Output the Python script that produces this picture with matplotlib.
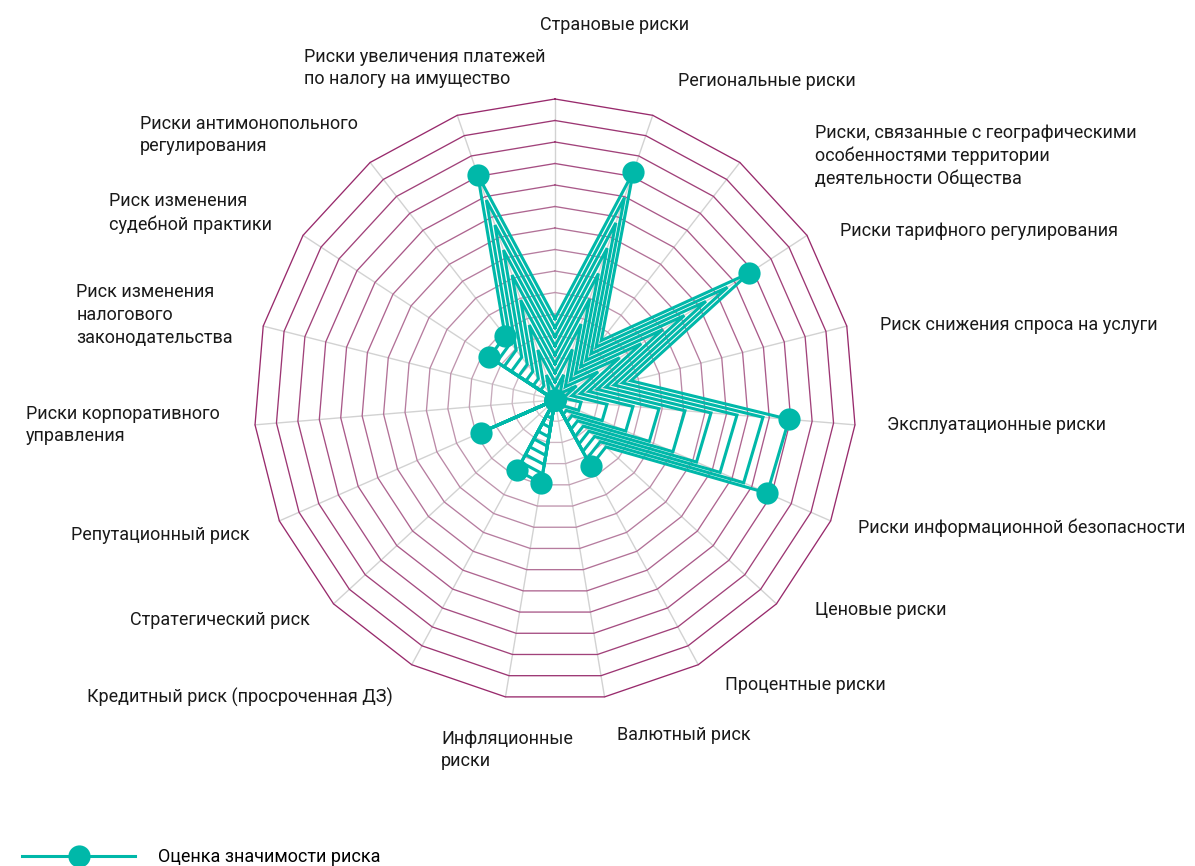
import numpy as np
import matplotlib
matplotlib.use("Agg")
import matplotlib.pyplot as plt
from matplotlib.lines import Line2D
from matplotlib.colors import to_rgb

# ---------------- data ----------------
categories = [
    "Страновые риски",
    "Региональные риски",
    "Риски, связанные с географическими\nособенностями территории\nдеятельности Общества",
    "Риски тарифного регулирования",
    "Риск снижения спроса на услуги",
    "Эксплуатационные риски",
    "Риски информационной безопасности",
    "Ценовые риски",
    "Процентные риски",
    "Валютный риск",
    "Инфляционные\nриски",
    "Кредитный риск (просроченная ДЗ)",
    "Стратегический риск",
    "Репутационный риск",
    "Риски корпоративного\nуправления",
    "Риск изменения\nналогового\nзаконодательства",
    "Риск изменения\nсудебной практики",
    "Риски антимонопольного\nрегулирования",
    "Риски увеличения платежей\nпо налогу на имущество",
]
values = [0.27, 0.80, 0.25, 0.77, 0.26, 0.78, 0.77, 0.23, 0.25, 0.0,
          0.28, 0.265, 0.0, 0.27, 0.0, 0.0, 0.26, 0.27, 0.79]
show_marker = [False, True, False, True, False, True, True, False, True, True,
               True, True, True, True, True, True, True, True, True]
series_name = "Оценка значимости риска"

# ---------------- layout / style ----------------
n_rings = 14
n_copies = 9
teal = "#00b8a9"
W, H = 1195, 866
cx, cy, R = 555, 400, 301

# label anchors in pixels: (x, y_center, ha)
label_pos = [
    (540, 25, "left"), (678, 81, "left"), (815, 156, "left"), (840, 231, "left"),
    (880, 325, "left"), (887, 425, "left"), (858, 528, "left"), (815, 610, "left"),
    (725, 685, "left"), (617, 735, "left"), (441, 750, "left"),
    (393, 697, "right"), (310, 620, "right"), (250, 535, "right"),
    (220, 425, "right"), (233, 315, "right"), (272, 213, "right"),
    (358, 135, "right"), (545, 68, "right"),
]

plt.rcParams["font.family"] = ["Roboto", "DejaVu Sans"]
fig = plt.figure(figsize=(W / 100, H / 100), dpi=100)
ax = fig.add_axes([(cx - R) / W, (H - cy - R) / H, 2 * R / W, 2 * R / H],
                  projection="polar")
ax.set_theta_zero_location("N")
ax.set_theta_direction(-1)
ax.set_ylim(0, 1)
ax.axis("off")

n = len(categories)
theta = np.arange(n) * 2 * np.pi / n
tc = np.append(theta, theta[0])

# spokes
for t in theta:
    ax.plot([t, t], [0, 1], color="#d2d2d2", lw=1.0, zorder=1, clip_on=False)

# polygon rings with colour gradient
c_in = np.array(to_rgb("#d0c3ca"))
c_out = np.array(to_rgb("#982a6c"))
for k in range(1, n_rings + 1):
    f = (k - 1) / (n_rings - 1)
    col = c_in + (c_out - c_in) * f
    ax.plot(tc, np.full(n + 1, k / n_rings), color=col, lw=0.95, zorder=2,
            clip_on=False)

# data polygon with nested copies
vals = np.array(values)
vc = np.append(vals, vals[0])
for k in range(1, n_copies + 1):
    ax.plot(tc, vc * k / n_copies, color=teal, lw=2.2, zorder=3,
            solid_joinstyle="miter", clip_on=False)
mask = np.array(show_marker)
ax.plot(theta[mask], vals[mask], "o", ms=16, color=teal, mew=0, zorder=4,
        clip_on=False)

# labels
fs = 13
for lab, (x, y, ha) in zip(categories, label_pos):
    fig.text(x / W, 1 - y / H, lab, ha=ha, va="center", multialignment="left",
             fontsize=fs, color="#1a1a1a", linespacing=1.35)

# legend
handle = Line2D([], [], color=teal, lw=2.2, marker="o", ms=16, mew=0)
fpx = fs * 100 / 72
fig.legend([handle], [series_name], loc="center left",
           bbox_to_anchor=(22 / W, (H - 857) / H), frameon=False,
           borderpad=0, borderaxespad=0, handlelength=113 / fpx,
           handletextpad=(158 - 135) / fpx, fontsize=fs, numpoints=1)

fig.savefig("out.png", dpi=100)
